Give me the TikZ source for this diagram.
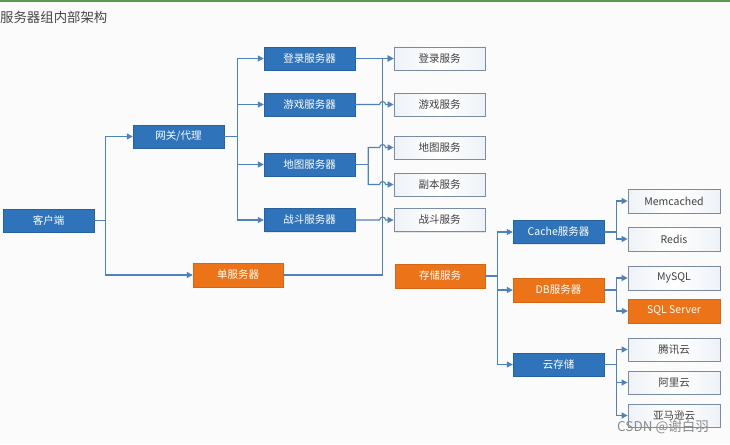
\documentclass[tikz,border=0pt]{standalone}
\usepackage{fontspec}
\setmainfont{Noto Sans CJK SC}
\usetikzlibrary{arrows.meta,shadows}
\definecolor{bluebox}{HTML}{2F73BA}
\definecolor{orangebox}{HTML}{EC7317}
\definecolor{wireblue}{HTML}{4F82BD}
\definecolor{greyborder}{HTML}{7B8CA2}
\definecolor{whitebot}{HTML}{EEF2F7}
\definecolor{bg}{HTML}{FBFBFB}
\definecolor{topgreen}{HTML}{5A9A4A}
\tikzset{
  boxbase/.style={minimum width=91pt,minimum height=23pt,inner sep=0pt,font=\fontsize{10.5}{12}\selectfont,
    drop shadow={opacity=0.18,shadow xshift=1pt,shadow yshift=-1.2pt}},
  bluenode/.style={boxbase,fill=bluebox,draw=bluebox!85!black,line width=0.4pt,text=white},
  orangenode/.style={boxbase,fill=orangebox,draw=orangebox!90!black,line width=0.4pt,text=white},
  whitenode/.style={boxbase,left color=whitebot,right color=whitebot,middle color=white,draw=greyborder,line width=0.8pt,text=black!75},
  wire/.style={draw=wireblue,line width=1.1pt},
  arr/.style={wire,-{Triangle[length=6pt,width=6pt]}},
}
\begin{document}
\begin{tikzpicture}[x=1pt,y=-1pt]
\useasboundingbox (0,0) rectangle (730,444);
\fill[bg] (0,0) rectangle (730,444);
\fill[topgreen] (0,0) rectangle (730,2.5);
\node[anchor=west,text=black!72,font=\fontsize{13.4}{15}\selectfont,inner sep=0pt] (title) at (0,17) {服务器组内部架构};

% left column
\node[bluenode] (kh) at (48.5,220.5) {客户端};
\node[bluenode] (gw) at (178.5,136.5) {网关/代理};
\node[orangenode,minimum height=24pt,minimum width=90pt] (ss) at (238,275) {单服务器};

% servers
\node[bluenode] (ls) at (309.5,58.5) {登录服务器};
\node[bluenode] (gs) at (309.5,104.5) {游戏服务器};
\node[bluenode] (ms) at (309.5,164.5) {地图服务器};
\node[bluenode] (fs) at (309.5,220) {战斗服务器};

% services
\node[whitenode] (lsv) at (439.5,58.5) {登录服务};
\node[whitenode] (gsv) at (439.5,104.5) {游戏服务};
\node[whitenode] (msv) at (439.5,147.5) {地图服务};
\node[whitenode] (dsv) at (439.5,184.5) {副本服务};
\node[whitenode] (fsv) at (439.5,220) {战斗服务};

% storage
\node[orangenode,minimum height=24pt,minimum width=90pt] (st) at (440,276) {存储服务};
\node[bluenode] (ca) at (558.5,232) {Cache服务器};
\node[orangenode,minimum height=24pt] (db) at (558.5,290) {DB服务器};
\node[bluenode] (cl) at (558.5,364.5) {云存储};

\node[whitenode,minimum width=92pt,minimum height=24pt] (mc) at (674,201) {Memcached};
\node[whitenode,minimum width=92pt,minimum height=24pt] (rd) at (674,239) {Redis};
\node[whitenode,minimum width=92pt,minimum height=24pt] (my) at (674,278) {MySQL};
\node[orangenode,minimum width=92pt,minimum height=24pt] (sq) at (674,311) {SQL Server};
\node[whitenode,minimum width=92pt] (tx) at (674,349.5) {腾讯云};
\node[whitenode,minimum width=92pt] (al) at (674,382.5) {阿里云};
\node[whitenode,minimum width=92pt] (am) at (674,415.5) {亚马逊云};

% client connectors
\draw[wire] (kh.east) -- ++(11.5,0) coordinate (kj);
\draw[arr] (kj) |- (gw.west);
\draw[arr] (kj) |- (ss.west);

% gateway connectors
\draw[wire] (gw.east) -- ++(13,0) coordinate (gj);
\draw[arr] (gj) |- (ls.west);
\draw[arr] (gj) |- (gs.west);
\draw[arr] (gj) |- (ms.west);
\draw[arr] (gj) |- (fs.west);

% single server to login service (vertical line at x=383)
\draw[arr] (ss.east) -| ([xshift=-11pt]lsv.west) -- (lsv.west);

% server to service connectors with hops
\draw[arr] (ls.east) -- (lsv.west);
\draw[arr] (gs.east) -- ([xshift=-14pt]gsv.west) arc[start angle=180,end angle=0,radius=3pt] -- (gsv.west);
\draw[wire] (ms.east) -- ++(13,0) coordinate (mj);
\draw[arr] (mj) |- ([xshift=-14pt]msv.west) arc[start angle=180,end angle=0,radius=3pt] -- (msv.west);
\draw[arr] (mj) |- ([xshift=-14pt]dsv.west) arc[start angle=180,end angle=0,radius=3pt] -- (dsv.west);
\draw[arr] (fs.east) -- ([xshift=-14pt]fsv.west) arc[start angle=180,end angle=0,radius=3pt] -- (fsv.west);

% storage connectors
\draw[wire] (st.east) -- ++(12,0) coordinate (sj);
\draw[arr] (sj) |- (ca.west);
\draw[arr] (sj) |- (db.west);
\draw[arr] (sj) |- (cl.west);

\draw[wire] (ca.east) -- ++(12,0) coordinate (cj);
\draw[arr] (cj) |- (mc.west);
\draw[arr] (cj) |- (rd.west);

\draw[wire] (db.east) -- ++(12,0) coordinate (dj);
\draw[arr] (dj) |- (my.west);
\draw[arr] (dj) |- (sq.west);

\draw[wire] (cl.east) -- ++(12,0) coordinate (lj);
\draw[arr] (lj) |- (tx.west);
\draw[arr] (lj) |- (al.west);
\draw[arr] (lj) |- (am.west);

% watermark
\node[anchor=west,text=black!45,font=\fontsize{13.5}{15}\selectfont,inner sep=0pt] (wm) at (617,427) {CSDN @谢白羽};
\end{tikzpicture}
\end{document}
